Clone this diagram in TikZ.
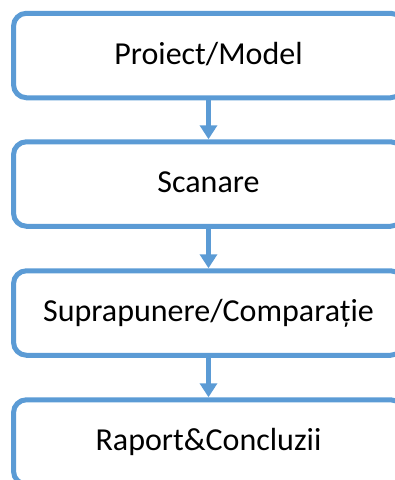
\documentclass[tikz,border=0pt]{standalone}
\usepackage{fontspec}
\setmainfont{Carlito}
\usetikzlibrary{arrows.meta}
\definecolor{flowblue}{HTML}{5B9BD5}

\begin{document}
\begin{tikzpicture}[x=1pt,y=1pt]
\useasboundingbox (0,0) rectangle (395,-480);
		\tikzset{every node/.style={draw=flowblue, line width=5pt, rounded corners=13pt,
			minimum width=390pt, minimum height=84.5pt, inner sep=0pt,
			text height=17pt, text depth=0pt, font=\fontsize{32}{38}\selectfont}}
\node (n1) at (208.5,-55.5) {Proiect/Model};
\node (n2) at (208.5,-184) {Scanare};
\node (n3) at (208.5,-313) {Suprapunere/Comparație};
\node (n4) at (208.5,-442) {Raport\&Concluzii};

\foreach \from/\to in {n1/n2,n2/n3,n3/n4}
{
	\draw[flowblue, line width=5pt, -{Triangle[width=17pt,length=14pt]}] (\from) -- (\to);
}

		\end{tikzpicture}
\end{document}
